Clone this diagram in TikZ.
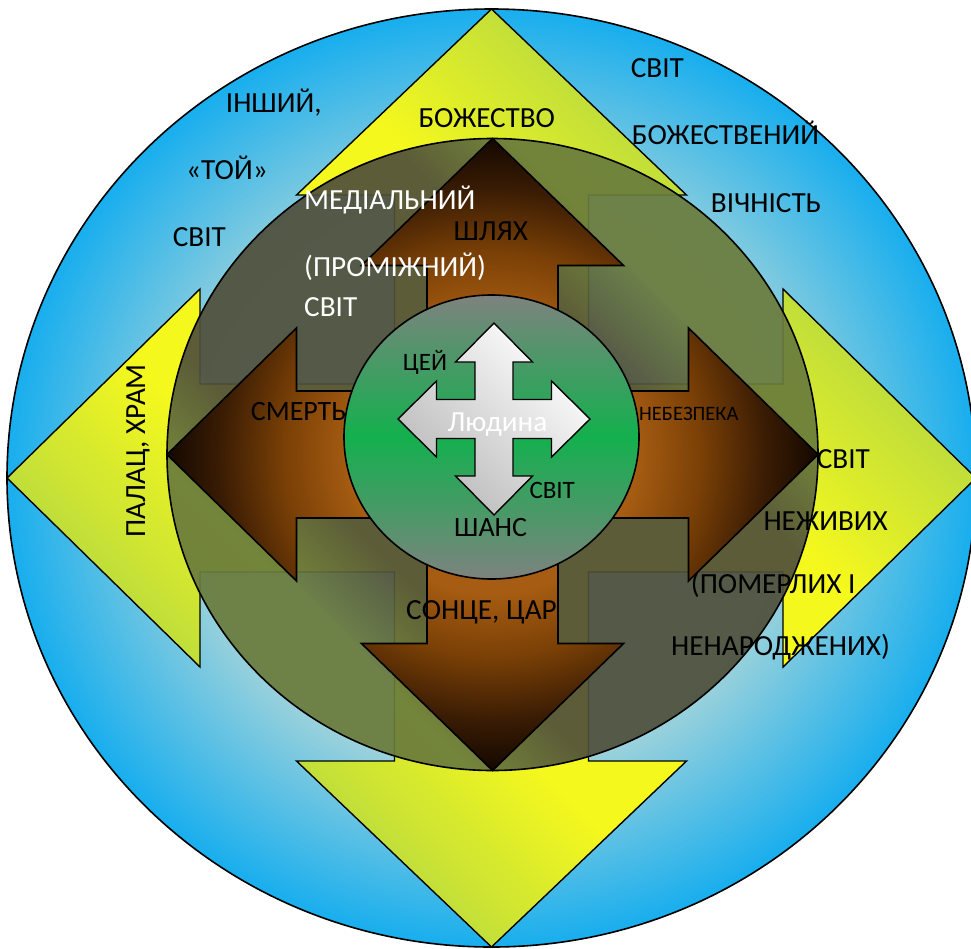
\documentclass[tikz,border=0pt]{standalone}
\usepackage{fontspec}
\setmainfont{Carlito}

\definecolor{bluedge}{HTML}{18AEEE}
\definecolor{bluein}{HTML}{A4D4DA}
\definecolor{lime}{HTML}{C0DE3A}
\definecolor{yel}{HTML}{F5F81D}
\definecolor{ogreen}{HTML}{6A7C3C}
\definecolor{odark}{HTML}{4F4F3B}
\definecolor{orng}{HTML}{A65C12}
\definecolor{brmid}{HTML}{7A4006}
\definecolor{brdeep}{HTML}{3A1C04}
\definecolor{brdark}{HTML}{140800}
\definecolor{gry}{HTML}{7E827F}
\definecolor{grn}{HTML}{14B04E}

% radial and diagonal fills
\pgfdeclareradialshading{bluerad}{\pgfpoint{0bp}{0bp}}{color(0bp)=(bluein); color(15bp)=(bluein); color(25bp)=(bluedge); color(50bp)=(bluedge)}
\pgfdeclareradialshading{brownrad}{\pgfpoint{0bp}{0bp}}{color(0bp)=(orng); color(11bp)=(orng); color(16bp)=(brmid); color(21bp)=(brdeep); color(25bp)=(brdark); color(50bp)=(brdark)}
\pgfdeclareverticalshading{yeldiag}{100bp}{color(0bp)=(lime); color(32bp)=(lime); color(41bp)=(yel); color(59bp)=(yel); color(68bp)=(lime); color(100bp)=(lime)}
\pgfdeclareverticalshading{olivediag}{100bp}{color(0bp)=(ogreen); color(31.5bp)=(ogreen); color(38.5bp)=(odark); color(61.5bp)=(odark); color(68.5bp)=(ogreen); color(100bp)=(ogreen)}
\pgfdeclareverticalshading{greenband}{100bp}{color(0bp)=(gry); color(25bp)=(gry); color(37bp)=(gry!50!grn); color(50bp)=(grn); color(63bp)=(gry!50!grn); color(75bp)=(gry); color(100bp)=(gry)}

% four-way arrow around the origin:
% #1 side apex, #2 side head base, #3 side head half width, #4 side shaft half width,
% #5 vertical apex, #6 vertical head base, #7 vertical head half width, #8 vertical shaft half width
\newcommand{\qarrowpath}[8]{(0,-#5) -- (#7,-#6) -- (#8,-#6) -- (#8,-#4) -- (#2,-#4) -- (#2,-#3) -- (#1,0) -- (#2,#3) -- (#2,#4) -- (#8,#4) -- (#8,#6) -- (#7,#6) -- (0,#5) -- (-#7,#6) -- (-#8,#6) -- (-#8,#4) -- (-#2,#4) -- (-#2,#3) -- (-#1,0) -- (-#2,-#3) -- (-#2,-#4) -- (-#8,-#4) -- (-#8,-#6) -- (-#7,-#6) -- cycle}

\begin{document}
\begin{tikzpicture}[x=1pt,y=-1pt,line join=miter,
  outline/.style={draw=black,line width=1.6pt},
  lbl/.style={anchor=base west,inner sep=0pt,text=black,font=\fontsize{29.2}{34}\selectfont},
  lblw/.style={lbl,text=white},
  lblm/.style={lbl,font=\fontsize{25}{30}\selectfont},
  lblb/.style={lbl,font=\fontsize{28}{33}\selectfont},
  lbls/.style={lbl,font=\fontsize{20.5}{25}\selectfont}]
\useasboundingbox (0,0) rectangle (971,948);

\coordinate (cOuter) at (491.5,478);
\coordinate (cMid) at (492.5,454.5);
\coordinate (cCore) at (491.5,437);
\coordinate (cCross) at (494,419);

% outer world
\shade[outline,shading=bluerad] (cOuter) ellipse [x radius=484.5pt,y radius=469pt];

% large yellow cross
\begin{scope}[shift={(cOuter)}]
  \shade[outline,line width=1.4pt,shading=yeldiag,shading angle=-45]
    \qarrowpath{484.5}{291.5}{189}{94}{469}{283}{195}{97};
\end{scope}

% medial world
\shade[draw=black,line width=1.6pt,shading=olivediag,shading angle=-45,fill opacity=0.92]
  (cMid) ellipse [x radius=325.5pt,y radius=316pt];

% brown cross
\begin{scope}[shift={(cMid)}]
  \shade[outline,shading=brownrad]
    \qarrowpath{325.5}{196}{126.5}{63.5}{316}{189}{131}{65.5};
\end{scope}

% this world
\shade[outline,shading=greenband] (cCore) ellipse [x radius=147.5pt,y radius=142pt];

% white cross
\begin{scope}[shift={(cCross)}]
  \shade[outline,line width=1.4pt,top color=white,middle color=gray!8,bottom color=gray!55,shading angle=-45]
    \qarrowpath{96}{57.5}{38}{19.5}{96}{57}{38.5}{19};
\end{scope}

% labels
\node[lbl] (t1) at (225.7,112.3) {ІНШИЙ,};
\node[lbl] (t2) at (186,179.3) {«ТОЙ»};
\node[lbl] (t3) at (172.7,246.7) {СВІТ};
\node[lbl] (t4) at (630.7,77.3) {СВІТ};
\node[lbl] (t5) at (631.7,144) {БОЖЕСТВЕНИЙ};
\node[lbl] (t6) at (710.7,212.7) {ВІЧНІСТЬ};
\node[lbl] (t7) at (418.3,127.7) {БОЖЕСТВО};
\node[lbl] (t8) at (453.3,240) {ШЛЯХ};
\node[lblw] (t9) at (304,209) {МЕДІАЛЬНИЙ};
\node[lblw] (t10) at (304,276.7) {(ПРОМІЖНИЙ)};
\node[lblw] (t11) at (304,316.7) {СВІТ};
\node[lblm] (t12) at (402.7,370) {ЦЕЙ};
\node[lblb] (t13) at (250.7,420) {СМЕРТЬ};
\node[lbls] (t14) at (639,420.7) {НЕБЕЗПЕКА};
\node[lblw] (t15) at (447.3,431.7) {Людина};
\node[lblm] (t16) at (529.3,498.3) {СВІТ};
\node[lblb] (t17) at (454,536.7) {ШАНС};
\node[lbl] (t18) at (816.7,468.3) {СВІТ};
\node[lbl] (t19) at (763.3,530.7) {НЕЖИВИХ};
\node[lbl] (t20) at (690.7,593.3) {(ПОМЕРЛИХ І};
\node[lbl] (t21) at (671,655) {НЕНАРОДЖЕНИХ)};
\node[lbl] (t22) at (406,619.3) {СОНЦЕ, ЦАР};
\node[lbl,rotate=90] (t23) at (145,538) {ПАЛАЦ, ХРАМ};
\end{tikzpicture}
\end{document}
